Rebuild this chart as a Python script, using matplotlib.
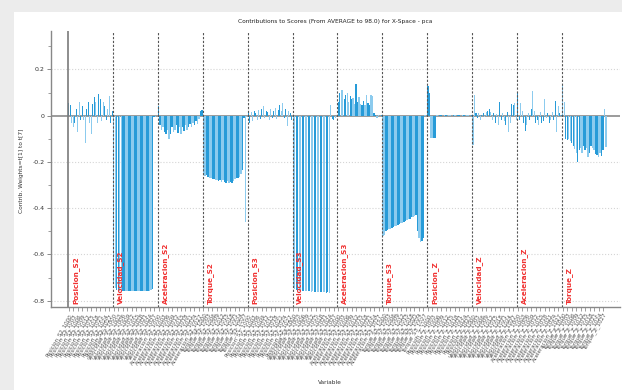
import matplotlib
matplotlib.use("Agg")
import matplotlib.pyplot as plt
from matplotlib.patches import Rectangle

# Nombres de los grupos de variables
group_names = ["Posicion_S2", "Velocidad_S2", "Aceleracion_S2", "Torque_S2",
               "Posicion_S3", "Velocidad_S3", "Aceleracion_S3", "Torque_S3",
               "Posicion_Z", "Velocidad_Z", "Aceleracion_Z", "Torque_Z"]

# Contribuciones (30 variables por grupo)
posicion_s2 = [0.055, 0.045, -0.03, -0.05, -0.03, 0.03, -0.07, 0.06, -0.02, 0.04,
               -0.02, -0.12, 0.03, 0.06, -0.03, -0.08, 0.05, 0.08, 0.06, -0.03,
               0.095, 0.07, -0.025, 0.06, 0.04, -0.02, 0.03, 0.085, -0.03, 0.02]
velocidad_s2 = [-0.72, -0.745, -0.755, -0.758, -0.76, -0.758, -0.757, -0.76, -0.758, -0.757,
                -0.759, -0.76, -0.758, -0.757, -0.758, -0.76, -0.759, -0.757, -0.758, -0.76,
                -0.758, -0.757, -0.759, -0.758, -0.757, -0.755, -0.75, -0.004, -0.006, -0.003]
aceleracion_s2 = [0.04, -0.04, -0.06, -0.05, -0.07, -0.08, -0.06, -0.1, -0.08, -0.05,
                  -0.07, -0.06, -0.04, -0.075, -0.05, -0.08, -0.05, -0.065, -0.04, -0.06,
                  -0.05, -0.035, -0.05, -0.03, -0.04, -0.025, -0.035, -0.015, 0.02, 0.025]
torque_s2 = [-0.255, -0.26, -0.258, -0.265, -0.27, -0.268, -0.275, -0.272, -0.28, -0.276,
             -0.283, -0.278, -0.285, -0.28, -0.288, -0.29, -0.284, -0.292, -0.286, -0.29,
             -0.282, -0.275, -0.27, -0.268, -0.265, -0.25, -0.235, -0.01, -0.46, -0.005]
posicion_s3 = [0.02, -0.03, 0.015, -0.025, 0.02, 0.01, -0.02, 0.025, -0.015, 0.03,
               0.04, -0.01, 0.02, 0.015, -0.02, 0.03, -0.01, 0.02, 0.035, -0.015,
               0.025, 0.045, 0.02, 0.055, -0.01, 0.03, -0.046, 0.02, 0.01, -0.02]
velocidad_s3 = [-0.74, -0.75, -0.755, -0.757, -0.756, -0.758, -0.757, -0.759, -0.758, -0.76,
                -0.759, -0.76, -0.761, -0.76, -0.762, -0.761, -0.762, -0.763, -0.762, -0.764,
                -0.763, -0.764, -0.765, -0.764, -0.765, 0.045, -0.015, -0.018, -0.012, 0.0]
aceleracion_s3 = [0.06, 0.1, 0.112, 0.11, 0.07, 0.09, 0.1, 0.06, 0.085, 0.07,
                  0.075, 0.05, 0.137, 0.06, 0.08, 0.05, 0.045, 0.065, 0.045, 0.09,
                  0.055, 0.045, 0.09, 0.085, 0.01, 0.003, -0.012, 0.002, 0.0, 0.002]
torque_s3 = [-0.52, -0.515, -0.5, -0.495, -0.49, -0.488, -0.485, -0.48, -0.478, -0.475,
             -0.472, -0.47, -0.465, -0.462, -0.458, -0.455, -0.45, -0.448, -0.445, -0.44,
             -0.438, -0.435, -0.43, -0.5, -0.53, -0.545, -0.54, -0.53, 0.002, 0.0]
posicion_z = [0.13, 0.1, -0.095, -0.097, -0.097, -0.095, 0.003, -0.002, 0.002, 0.003,
              -0.002, 0.002, 0.003, -0.003, 0.002, 0.002, -0.002, 0.003, 0.002, -0.002,
              0.003, 0.002, -0.003, 0.002, 0.003, -0.002, 0.002, 0.003, -0.002, 0.002]
velocidad_z = [-0.125, 0.09, 0.01, -0.01, 0.01, -0.02, 0.005, 0.01, -0.005, 0.015,
               0.02, 0.03, 0.015, -0.02, 0.01, -0.03, 0.008, -0.04, 0.057, -0.02,
               0.01, -0.025, -0.04, 0.015, -0.07, -0.03, 0.05, 0.045, 0.055, -0.02]
aceleracion_z = [0.1, -0.02, 0.055, 0.02, -0.03, -0.068, -0.04, 0.01, -0.02, 0.03,
                 0.105, 0.02, -0.03, -0.02, -0.04, 0.015, -0.03, -0.025, 0.07, -0.01,
                 0.01, -0.03, -0.02, 0.015, -0.02, 0.065, -0.07, 0.04, 0.01, 0.005]
torque_z = [0.134, 0.06, -0.1, -0.105, -0.1, -0.11, -0.12, -0.13, -0.145, -0.16,
            -0.2, -0.15, -0.14, -0.16, -0.13, -0.15, -0.14, -0.18, -0.16, -0.13,
            -0.14, -0.15, -0.165, -0.17, -0.18, -0.16, -0.175, -0.15, 0.03, -0.135]

groups = [posicion_s2, velocidad_s2, aceleracion_s2, torque_s2,
          posicion_s3, velocidad_s3, aceleracion_s3, torque_s3,
          posicion_z, velocidad_z, aceleracion_z, torque_z]

# Sufijos de las etiquetas mostradas (una de cada 3 variables)
tick_suffixes = ["1000", "1003", "1006", "1009", "1012", "1015", "1018", "1021", "1024", "1027"]
tick_step = 3

y_ticks = [0.2, 0, -0.2, -0.4, -0.6, -0.8]
y_tick_labels = ["0.2", "0", "-0.2", "-0.4", "-0.6", "-0.8"]

DARK = "#279bd8"
LIGHT = "#8ccbee"

W, H = 622, 390
fig = plt.figure(figsize=(W / 100, H / 100), dpi=100, facecolor="#ececec")
fig.patches.append(Rectangle((14 / W, 0), 1 - 14 / W, 1 - 12 / H, transform=fig.transFigure,
                             facecolor="white", edgecolor="none", zorder=-10))

ax = fig.add_axes([51 / W, 1 - 307 / H, (620 - 51) / W, (307 - 31) / H])
ax.set_facecolor("white")
ax.set_zorder(1)

values = [v for g in groups for v in g]
n_per = len(posicion_s2)
xs = list(range(len(values)))
colors = [DARK if (i % 4) < 2 else LIGHT for i in xs]
ax.bar(xs, values, width=0.85, color=colors, linewidth=0, zorder=3)

# lineas de grupo
for g, name in enumerate(group_names):
    x0 = g * n_per - 0.5
    if g == 0:
        ax.axvline(x0, color="#7a7a7a", lw=1.2, zorder=4)
    else:
        ax.axvline(x0, color="#555555", lw=0.8, ls=(0, (2, 1.5)), zorder=4)
    ax.text(g * n_per + 4.5, -0.815, name, rotation=90, ha="center", va="bottom",
            color="#f03030", fontsize=5.2, fontweight="bold", zorder=5)

ax.axhline(0, color="#8a8a8a", lw=1.2, zorder=2)
for yv in y_ticks:
    if yv != 0:
        ax.axhline(yv, color="#d5d5d5", lw=0.8, ls=":", zorder=1)

ax.set_xlim(-11.86, 368.3)
ax.set_ylim(-0.827, 0.366)

ax.set_yticks(y_ticks)
ax.set_yticklabels(y_tick_labels, fontsize=4.5, color="#333333")
ax.set_yticks([0.3, 0.1, -0.1, -0.3, -0.5, -0.7], minor=True)
ax.tick_params(axis="y", which="major", length=3, width=0.6, color="#777777", pad=1.5)
ax.tick_params(axis="y", which="minor", length=2, width=0.5, color="#777777")

tick_pos = []
tick_labels = []
for g, name in enumerate(group_names):
    for k, suf in enumerate(tick_suffixes):
        tick_pos.append(g * n_per + k * tick_step)
        tick_labels.append(f"{name}_{suf}")
ax.set_xticks(tick_pos)
ax.set_xticklabels(tick_labels, rotation=60, ha="right", va="top", rotation_mode="anchor",
                   fontsize=4, color="#555555")
ax.tick_params(axis="x", length=3, width=0.5, color="#777777", pad=1)

for side in ["top", "right"]:
    ax.spines[side].set_visible(False)
for side in ["left", "bottom"]:
    ax.spines[side].set_color("#888888")
    ax.spines[side].set_linewidth(1.0)

ax.text(0.5, 1 + 9 / 276, "Contributions to Scores (From AVERAGE to 98.0) for X-Space - pca",
        transform=ax.transAxes, ha="center", va="center", fontsize=4.2, color="#222222")
fig.text(22 / W, 1 - 171 / H, "Contrib. Weights=t[1] to t[7]", rotation=90,
         ha="center", va="center", fontsize=4.2, color="#333333")
fig.text(330 / W, 1 - 383 / H, "Variable", ha="center", va="center", fontsize=4.2, color="#333333")

fig.savefig("out.png", dpi=100, facecolor=fig.get_facecolor())
